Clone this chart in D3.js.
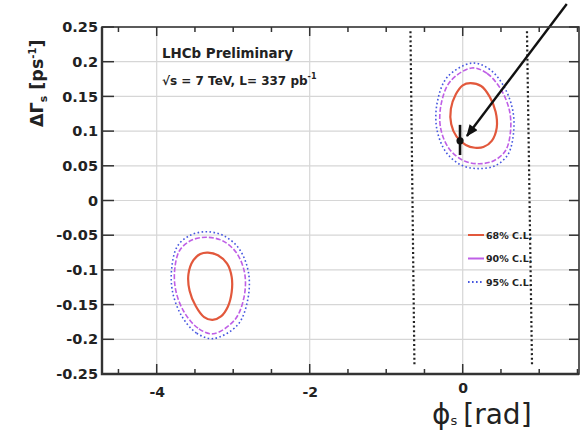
<!DOCTYPE html>
<html>
<head>
<meta charset="utf-8">
<script src="https://cdn.jsdelivr.net/npm/d3@7/dist/d3.min.js"></script>
<style>
  body { margin: 0; background: #fff; }
  svg { display: block; }
  text { font-family: "DejaVu Sans", sans-serif; }
</style>
</head>
<body>
<svg id="chart" width="586" height="434"></svg>
<script>
// ---- data -------------------------------------------------------------
const xMajorTicks = [-4, -2, 0];
const xMinorTicks = [-4.5, -3.5, -3, -2.5, -1.5, -1, -0.5, 0.5, 1, 1.5];
const yTicks = [-0.25, -0.2, -0.15, -0.1, -0.05, 0, 0.05, 0.1, 0.15, 0.2, 0.25];
const yTickLabels = ["-0.25", "-0.2", "-0.15", "-0.1", "-0.05", "0", "0.05", "0.1", "0.15", "0.2", "0.25"];
const xDomain = [-4.715, 1.52];
const yDomain = [-0.25, 0.25];

// confidence-level contours, [phi_s, DeltaGamma_s]
const upper68 = [[0.10,0.169],[0.24,0.165],[0.35,0.150],[0.43,0.128],[0.445,0.105],[0.38,0.086],[0.27,0.077],[0.16,0.076],[0.04,0.080],[-0.08,0.092],[-0.15,0.110],[-0.155,0.132],[-0.09,0.153],[0.00,0.166]];
const upper90 = [[0.12,0.191],[0.32,0.183],[0.50,0.160],[0.61,0.130],[0.625,0.100],[0.56,0.072],[0.40,0.057],[0.20,0.053],[0.00,0.058],[-0.18,0.075],[-0.29,0.105],[-0.28,0.140],[-0.16,0.172]];
const upper95 = [[0.12,0.198],[0.34,0.190],[0.53,0.166],[0.65,0.132],[0.665,0.098],[0.59,0.066],[0.42,0.050],[0.20,0.046],[-0.02,0.051],[-0.22,0.070],[-0.34,0.104],[-0.33,0.143],[-0.20,0.178]];
const lower68 = [[-3.33,-0.075],[-3.20,-0.079],[-3.08,-0.091],[-3.02,-0.110],[-3.02,-0.132],[-3.07,-0.153],[-3.16,-0.167],[-3.27,-0.172],[-3.38,-0.168],[-3.49,-0.152],[-3.57,-0.130],[-3.585,-0.106],[-3.52,-0.086],[-3.43,-0.077]];
const lower90 = [[-3.26,-0.192],[-3.46,-0.184],[-3.64,-0.161],[-3.75,-0.130],[-3.765,-0.100],[-3.70,-0.072],[-3.54,-0.057],[-3.34,-0.053],[-3.14,-0.058],[-2.96,-0.075],[-2.85,-0.105],[-2.86,-0.140],[-2.98,-0.172]];
const lower95 = [[-3.26,-0.199],[-3.48,-0.191],[-3.67,-0.167],[-3.79,-0.133],[-3.805,-0.099],[-3.73,-0.066],[-3.56,-0.050],[-3.34,-0.045],[-3.12,-0.051],[-2.92,-0.070],[-2.80,-0.104],[-2.81,-0.143],[-2.94,-0.179]];

// Standard Model expectation with its uncertainty
const smPoint = { phi: -0.035, dg: 0.086, lo: 0.0655, hi: 0.109 };
// dotted boundary lines
const boundaryLeft = [[-0.683, 0.244], [-0.631, -0.237]];
const boundaryRight = [[0.84, 0.244], [0.906, -0.237]];
// annotation arrow
const arrowFrom = [1.36, 0.283];
const arrowTo = [0.055, 0.093];

const legendLabels = ["68% C.L.", "90% C.L.", "95% C.L."];
const colors = { c68: "#e2583c", c90: "#bf5fe6", c95: "#4656e0" };

// ---- layout -----------------------------------------------------------
const svg = d3.select("#chart");
const L = 102, R = 579, T = 27, B = 374;
const x = d3.scaleLinear().domain(xDomain).range([L, R]);
const y = d3.scaleLinear().domain(yDomain).range([B, T]);

// grid
const grid = svg.append("g").attr("stroke", "#d6d6d6").attr("stroke-width", 1.2);
grid.selectAll("line.h").data(yTicks.slice(1, -1)).join("line")
  .attr("x1", L).attr("x2", R).attr("y1", d => y(d)).attr("y2", d => y(d));
grid.selectAll("line.v").data(xMajorTicks).join("line")
  .attr("x1", d => x(d)).attr("x2", d => x(d)).attr("y1", T).attr("y2", B);

// dotted boundaries
[boundaryLeft, boundaryRight].forEach(b => {
  svg.append("line")
    .attr("x1", x(b[0][0])).attr("y1", y(b[0][1]))
    .attr("x2", x(b[1][0])).attr("y2", y(b[1][1]))
    .attr("stroke", "#222").attr("stroke-width", 2.2)
    .attr("stroke-dasharray", "2,2.6");
});

// contours
const contour = d3.line().x(d => x(d[0])).y(d => y(d[1])).curve(d3.curveCatmullRomClosed.alpha(0.5));
const styles = [
  { data: [upper95, lower95], color: colors.c95, width: 1.6, dash: "1.6,2.4" },
  { data: [upper90, lower90], color: colors.c90, width: 1.6, dash: "5,2" },
  { data: [upper68, lower68], color: colors.c68, width: 2.2, dash: null }
];
styles.forEach(s => {
  s.data.forEach(pts => {
    svg.append("path").attr("d", contour(pts))
      .attr("fill", "none").attr("stroke", s.color)
      .attr("stroke-width", s.width)
      .attr("stroke-dasharray", s.dash);
  });
});

// SM point
svg.append("line")
  .attr("x1", x(smPoint.phi)).attr("x2", x(smPoint.phi))
  .attr("y1", y(smPoint.lo)).attr("y2", y(smPoint.hi))
  .attr("stroke", "#111").attr("stroke-width", 2.6);
svg.append("circle")
  .attr("cx", x(smPoint.phi)).attr("cy", y(smPoint.dg)).attr("r", 3.6).attr("fill", "#111");

// arrow
svg.append("defs").append("marker")
  .attr("id", "head").attr("viewBox", "0 0 12 10")
  .attr("refX", 11).attr("refY", 5)
  .attr("markerWidth", 13).attr("markerHeight", 10)
  .attr("markerUnits", "userSpaceOnUse").attr("orient", "auto")
  .append("path").attr("d", "M0,0 L12,5 L0,10 Z").attr("fill", "#111");
svg.append("line")
  .attr("x1", x(arrowFrom[0])).attr("y1", y(arrowFrom[1]))
  .attr("x2", x(arrowTo[0])).attr("y2", y(arrowTo[1]))
  .attr("stroke", "#111").attr("stroke-width", 2.4)
  .attr("marker-end", "url(#head)");

// frame ticks
const tk = svg.append("g").attr("stroke", "#333").attr("stroke-width", 1.5);
xMajorTicks.forEach(v => {
  tk.append("line").attr("x1", x(v)).attr("x2", x(v)).attr("y1", B).attr("y2", B - 10);
  tk.append("line").attr("x1", x(v)).attr("x2", x(v)).attr("y1", T).attr("y2", T + 9);
});
xMinorTicks.forEach(v => {
  tk.append("line").attr("x1", x(v)).attr("x2", x(v)).attr("y1", B).attr("y2", B - 5);
  tk.append("line").attr("x1", x(v)).attr("x2", x(v)).attr("y1", T).attr("y2", T + 5);
});
yTicks.forEach(v => {
  tk.append("line").attr("x1", L).attr("x2", L + 12).attr("y1", y(v)).attr("y2", y(v));
  tk.append("line").attr("x1", R).attr("x2", R - 10).attr("y1", y(v)).attr("y2", y(v));
});

// frame
svg.append("rect").attr("x", L).attr("y", T).attr("width", R - L).attr("height", B - T)
  .attr("fill", "none").attr("stroke", "#333").attr("stroke-width", 1.6);
svg.append("path").attr("d", `M${L},${T}V${B}H${R}`)
  .attr("fill", "none").attr("stroke", "#333").attr("stroke-width", 2.4);

// tick labels through d3 axes
const yAxis = d3.axisLeft(y).tickValues(yTicks)
  .tickFormat((d, i) => yTickLabels[i]).tickSize(0).tickPadding(4);
const gy = svg.append("g").attr("transform", `translate(${L},0)`).call(yAxis);
gy.select(".domain").remove();
gy.selectAll("text").attr("font-family", "DejaVu Sans").attr("font-weight", "bold")
  .attr("font-size", 14.5).attr("fill", "#222");

const xAxis = d3.axisBottom(x).tickValues(xMajorTicks).tickSize(0).tickPadding(13)
  .tickFormat(d => d < 0 ? "-" + Math.abs(d) : String(d));
const gx = svg.append("g").attr("transform", `translate(0,${B})`).call(xAxis);
gx.select(".domain").remove();
gx.selectAll("text").attr("font-family", "DejaVu Sans").attr("font-weight", "bold")
  .attr("font-size", 14).attr("fill", "#222");
// the zero label sits a little higher, right above the axis title
gx.selectAll(".tick").filter(d => d === 0).select("text").attr("dy", "0.45em");

// axis titles
const yt = svg.append("text")
  .attr("transform", "translate(43,127) rotate(-90)")
  .attr("font-weight", "bold").attr("font-size", 17.5).attr("fill", "#222");
yt.append("tspan").text("ΔΓ");
yt.append("tspan").attr("font-size", 11).attr("dy", 4).text("s");
yt.append("tspan").attr("dy", -4).text(" [ps");
yt.append("tspan").attr("font-size", 10).attr("dy", -7).text("-1");
yt.append("tspan").attr("dy", 7).text("]");

const xt = svg.append("text").attr("x", 432).attr("y", 424)
  .attr("font-family", "Open Sans, DejaVu Sans").attr("font-size", 28).attr("fill", "#222");
xt.append("tspan").text("ϕ");
xt.append("tspan").attr("font-size", 13).attr("dy", 1).text("s");
xt.append("tspan").attr("dy", -1).attr("dx", 6).text("[rad]");

// experiment label
svg.append("text").attr("x", 162).attr("y", 58)
  .attr("font-weight", "bold").attr("font-size", 13.4).attr("fill", "#222")
  .text("LHCb Preliminary");
const lum = svg.append("text").attr("x", 162).attr("y", 85)
  .attr("font-weight", "bold").attr("font-size", 12).attr("fill", "#222");
lum.append("tspan").text("√s = 7 TeV, L= 337 pb");
lum.append("tspan").attr("font-size", 8).attr("dy", -6).text("-1");

// legend
const lg = svg.append("g");
legendLabels.forEach((lab, i) => {
  const ly = 235 + i * 23.5;
  const st = styles[2 - i];
  lg.append("line").attr("x1", 468).attr("x2", 484).attr("y1", ly).attr("y2", ly)
    .attr("stroke", st.color).attr("stroke-width", 2)
    .attr("stroke-dasharray", i === 2 ? "1.6,2.4" : null);
  lg.append("text").attr("x", 486).attr("y", ly + 3.5)
    .attr("font-weight", "bold").attr("font-size", 9.5).attr("fill", "#222").text(lab);
});
</script>
</body>
</html>
